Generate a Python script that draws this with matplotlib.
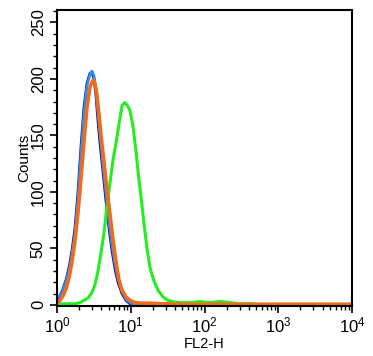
import matplotlib
matplotlib.use("Agg")
import matplotlib.pyplot as plt
from matplotlib.ticker import LogLocator, MultipleLocator, FixedLocator

plt.rcParams['font.family'] = ['Liberation Sans', 'DejaVu Sans']

# FL2-H intensity (x) and event counts (y)
navy_x = [1.00, 1.098, 1.206, 1.325, 1.455, 1.597, 1.754, 1.927, 2.116, 2.323, 2.551,
          2.802, 2.983, 3.175, 3.380, 3.596, 3.830, 4.205, 4.617, 5.072, 5.570, 6.115,
          6.716, 7.610, 8.623, 9.768, 11.07, 10000]
navy_y = [5, 8, 14, 22, 33, 48, 68, 100, 140, 175, 196,
          205, 206, 200, 185, 163, 143, 118, 92, 68, 48, 32,
          20, 10, 4, 1, 0, 0]

lightblue_x = navy_x
lightblue_y = [7, 8, 13, 21, 31, 45, 64, 95, 134, 170, 194,
               204, 207, 203, 190, 170, 150, 124, 98, 73, 53, 36,
               23, 12, 5, 2, 0, 0]

orange_x = [1.00, 1.098, 1.206, 1.325, 1.455, 1.597, 1.754, 1.927, 2.116, 2.323, 2.551,
            2.802, 3.077, 3.276, 3.486, 3.711, 3.951, 4.339, 4.764, 5.232, 5.743, 6.310,
            6.929, 7.610, 8.623, 9.768, 11.42, 13.35, 18.24, 24.93, 34.06, 39.81, 10000]
orange_y = [2, 4, 8, 14, 24, 38, 57, 82, 112, 145, 175,
            193, 199, 196, 185, 168, 150, 126, 102, 80, 58, 38,
            22, 13, 7, 4, 2, 1.5, 1.5, 1, 1, 0.5, 0.5]

green_x = [1.00, 1.284, 1.754, 2.050, 2.323, 2.633, 2.983, 3.276, 3.596, 3.951, 4.339,
           4.764, 5.232, 5.743, 6.310, 6.929, 7.610, 8.229, 8.896, 9.768, 10.73, 11.78,
           12.74, 13.77, 15.12, 16.61, 18.24, 20.67, 23.42, 27.37, 31.99, 39.81, 46.54,
           63.6, 86.9, 118.8, 162.3, 221.7, 302.9, 414, 565, 10000]
green_y = [1, 1, 1, 2, 4, 6, 11, 18, 30, 46, 64,
           88, 108, 128, 143, 160, 176, 179, 177, 172, 158, 136,
           114, 96, 72, 50, 33, 21, 13, 7, 4, 2.5, 2,
           2, 3, 2, 3, 2, 1, 1, 0.5, 0.5]

fig = plt.figure(figsize=(3.73, 3.56), dpi=100)
ax = fig.add_axes([57/373, 1-306/356, (352-57)/373, (306-10)/356])

ax.plot(navy_x, navy_y, color='#10109a', lw=2.0)
ax.plot(lightblue_x, lightblue_y, color='#2f8fe8', lw=1.9)
ax.plot(green_x, green_y, color='#22ee22', lw=2.2)
ax.plot(orange_x, orange_y, color='#f26a1b', lw=2.6)

ax.set_xscale('log')
ax.set_xlim(1, 10000)
ax.set_ylim(-1, 261)
ax.xaxis.set_major_locator(FixedLocator([1, 10, 100, 1000, 10000]))
ax.xaxis.set_minor_locator(LogLocator(base=10, subs=range(2, 10), numticks=20))
ax.yaxis.set_major_locator(FixedLocator([0, 50, 100, 150, 200, 250]))
ax.yaxis.set_minor_locator(MultipleLocator(10))

for s in ax.spines.values():
    s.set_linewidth(1.5)
ax.tick_params(which='major', direction='out', length=5, width=1.2, labelsize=12, pad=2)
ax.tick_params(which='minor', direction='out', length=3, width=1.0)
ax.tick_params(axis='y', which='major', labelsize=12, pad=3)
for lab in ax.get_yticklabels():
    lab.set_rotation(90)
    lab.set_va('center')

ax.set_xlabel('FL2-H', fontsize=10.5, labelpad=1)
ax.set_ylabel('Counts', fontsize=11, labelpad=0)

fig.savefig('out.png', dpi=100)
